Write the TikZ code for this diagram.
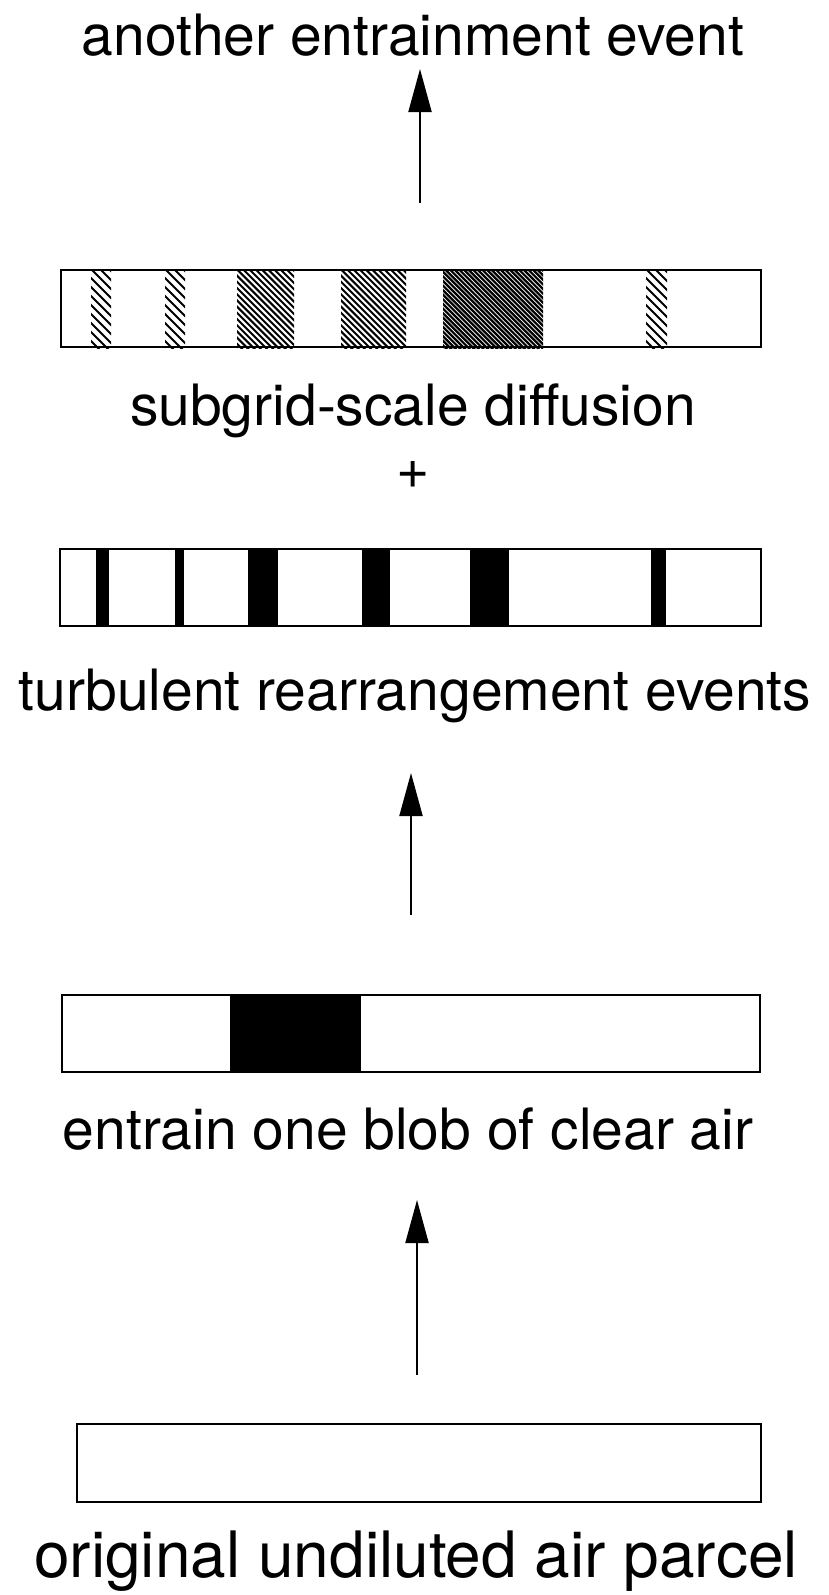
\documentclass[tikz,border=0pt]{standalone}
\usepackage{fontspec}
\setmainfont{TeX Gyre Heros}
\usetikzlibrary{arrows.meta}

% diagonal hatching inside one band of the diffused parcel
\newcommand\hatchband[4]{%
  \begin{scope}
    \clip (#1,270) rectangle (#2,348);
    \foreach \k in {0,...,45}{
      \draw[line width=#4] ({#1-82+\k*#3},268) -- ++(84,84);
    }
  \end{scope}}

\begin{document}
\begin{tikzpicture}[x=1pt,y=-1pt,
  txt/.style={inner sep=0pt, anchor=base, font=\fontsize{57}{60}\selectfont},
  parcel/.style={draw=black, line width=2.2pt, inner sep=0pt, outer sep=0pt,
                 anchor=north west, minimum height=77pt},
  upflow/.style={line width=2pt, -{Triangle[length=43pt,width=23pt]}},
  edge/.style={line width=2.2pt}]

\useasboundingbox (0,0) rectangle (829,1595);

% stage 4: diffused parcel
\node[txt] (t4) at (413,56) {another entrainment event};
\coordinate (a1tail) at (420,203);
\coordinate (a1head) at (420,69);
\draw[upflow] (a1tail) -- (a1head);

\node[parcel, minimum width=700pt] (bar1) at (61,270) {};
\hatchband{91}{111}{9}{1.8pt}
\hatchband{165}{185}{9}{1.8pt}
\hatchband{237}{294}{6.2}{2pt}
\hatchband{341}{406}{6.2}{2pt}
\hatchband{443}{543}{4.6}{2.2pt}
\hatchband{646}{667}{9}{1.8pt}
\draw[edge] (bar1.north west) rectangle (bar1.south east);

\node[txt] (t3) at (413,425) {subgrid-scale diffusion};
\node[txt] (plus) at (413,488) {+};

% stage 3: rearranged parcel
\node[parcel, minimum width=701pt] (bar2) at (60,549) {};
\fill (96,549) rectangle (109,626);
\fill (175,549) rectangle (184,626);
\fill (248,549) rectangle (278,626);
\fill (362,549) rectangle (390,626);
\fill (470,549) rectangle (509,626);
\fill (651,549) rectangle (666,626);
\draw[edge] (bar2.north west) rectangle (bar2.south east);

\node[txt] (t2) at (415,710) {turbulent rearrangement events};
\coordinate (a2tail) at (411,915);
\coordinate (a2head) at (411,773);
\draw[upflow] (a2tail) -- (a2head);

% stage 2: one entrained blob
\node[parcel, minimum width=698pt] (bar3) at (62,995) {};
\fill (230,995) rectangle (361,1072);
\draw[edge] (bar3.north west) rectangle (bar3.south east);

\node[txt] (t1) at (408,1149) {entrain one blob of clear air};
\coordinate (a3tail) at (417,1375);
\coordinate (a3head) at (417,1200);
\draw[upflow] (a3tail) -- (a3head);

% stage 1: undiluted parcel
\node[parcel, minimum width=684pt, minimum height=78pt] (bar4) at (77,1424) {};

\node[txt, font=\fontsize{64}{66}\selectfont] (t0) at (416,1577) {original undiluted air parcel};
\end{tikzpicture}
\end{document}
